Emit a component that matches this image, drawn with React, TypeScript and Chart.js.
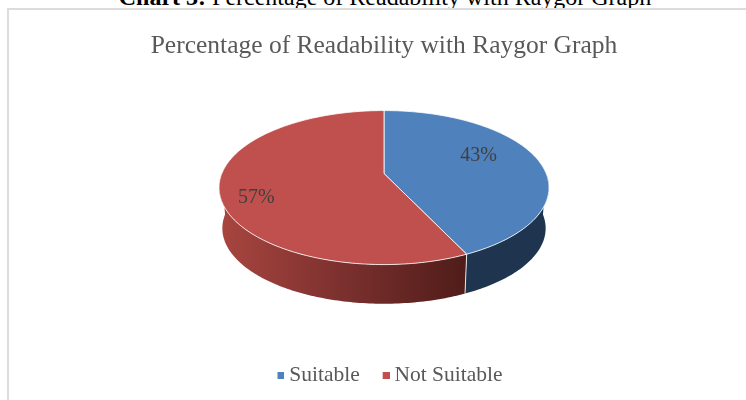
import React, { useEffect, useRef } from "react";
import { Chart, registerables } from "chart.js";

Chart.register(...registerables);

const categories = ["Suitable", "Not Suitable"];
const values = [43, 57];
const titleText = "Percentage of Readability with Raygor Graph";
const captionBold = "Chart 3:";
const captionRest = " Percentage of Readability with Raygor Graph";
const faceColors = ["#4f81bd", "#c0504d"];
const serif = "'Liberation Serif', 'Times New Roman', serif";

// Projection of the library's pie circle on to a tilted disc.
const PERSPECTIVE = 0.182;
const X_SCALE = 1.159;
const Y_SCALE = 0.532;
const HUB_SHIFT_Y = -28;
const WALL_DROP = 41;
const WALL_SHRINK = 0.98;

function squareImage(color: string) {
  const c = document.createElement("canvas");
  c.width = 13;
  c.height = 7;
  const g = c.getContext("2d")!;
  g.fillStyle = color;
  g.fillRect(6, 0, 7, 7);
  return c;
}

function project(arc: any, angle: number, r = 1, drop = 0, scale = 1) {
  const u = Math.cos(angle) * r;
  const v = Math.sin(angle) * r;
  const w = 1 - PERSPECTIVE * v;
  const R = arc.outerRadius;
  return {
    x: arc.x + (R * X_SCALE * scale * u) / w,
    y: arc.y + HUB_SHIFT_Y + drop + (R * Y_SCALE * scale * v) / w,
  };
}

function samples(a: number, b: number) {
  const out: number[] = [];
  const n = Math.max(2, Math.ceil(Math.abs(b - a) * 60));
  for (let i = 0; i <= n; i++) out.push(a + ((b - a) * i) / n);
  return out;
}

const disc3d = {
  id: "disc3d",
  afterLayout(chart: any) {
    if (chart.legend) {
      chart.legend.left += 6;
      chart.legend.right += 6;
    }
  },
  beforeDatasetDraw(chart: any, args: any) {
    const ctx = chart.ctx;
    const arcs: any[] = args.meta.data;
    ctx.save();
    // side wall: only the part facing the viewer
    arcs.forEach((arc, i) => {
      const a = Math.max(arc.startAngle, 0);
      const b = Math.min(arc.endAngle, Math.PI);
      if (b <= a) return;
      const angles = samples(a, b);
      ctx.beginPath();
      angles.forEach((t, k) => {
        const p = project(arc, t);
        if (k === 0) ctx.moveTo(p.x, p.y);
        else ctx.lineTo(p.x, p.y);
      });
      angles
        .slice()
        .reverse()
        .forEach((t) => {
          const p = project(arc, t, 1, WALL_DROP, WALL_SHRINK);
          ctx.lineTo(p.x, p.y);
        });
      ctx.closePath();
      if (i === 0) {
        ctx.fillStyle = "#1f344f";
      } else {
        const left = project(arc, Math.PI).x;
        const right = project(arc, a).x;
        const g = ctx.createLinearGradient(left, 0, right, 0);
        g.addColorStop(0, "#a8453f");
        g.addColorStop(0.5, "#7b302e");
        g.addColorStop(1, "#4f1c19");
        ctx.fillStyle = g;
      }
      ctx.fill();
    });
    // seam on the wall
    arcs.forEach((arc) => {
      if (arc.startAngle > 0 && arc.startAngle < Math.PI) {
        const p = project(arc, arc.startAngle);
        const q = project(arc, arc.startAngle, 1, WALL_DROP, WALL_SHRINK);
        ctx.beginPath();
        ctx.moveTo(p.x, p.y);
        ctx.lineTo(q.x, q.y);
        ctx.strokeStyle = "rgba(255,255,255,0.85)";
        ctx.lineWidth = 1;
        ctx.stroke();
      }
    });
    // top faces
    arcs.forEach((arc, i) => {
      const hub = project(arc, 0, 0);
      ctx.beginPath();
      ctx.moveTo(hub.x, hub.y);
      samples(arc.startAngle, arc.endAngle).forEach((t) => {
        const p = project(arc, t);
        ctx.lineTo(p.x, p.y);
      });
      ctx.closePath();
      ctx.fillStyle = faceColors[i];
      ctx.fill();
      ctx.strokeStyle = "rgba(255,255,255,0.8)";
      ctx.lineWidth = 1;
      ctx.stroke();
    });
    ctx.restore();
    return false;
  },
  afterDatasetsDraw(chart: any) {
    const ctx = chart.ctx;
    const arcs: any[] = chart.getDatasetMeta(0).data;
    const radii = [0.66, 0.805];
    const total = values.reduce((s, x) => s + x, 0);
    ctx.save();
    ctx.font = `20px ${serif}`;
    ctx.fillStyle = "#404040";
    ctx.textAlign = "center";
    ctx.textBaseline = "middle";
    arcs.forEach((arc, i) => {
      const mid = (arc.startAngle + arc.endAngle) / 2 - (10 * Math.PI) / 180;
      const p = project(arc, mid, radii[i]);
      ctx.fillText(`${Math.round((values[i] / total) * 100)}%`, p.x, p.y);
    });
    ctx.restore();
  },
};

export default function App() {
  const ref = useRef<HTMLCanvasElement>(null);
  useEffect(() => {
    document.body.style.margin = "0";
    const chart = new Chart(ref.current!, {
      type: "pie",
      data: {
        labels: categories,
        datasets: [{ data: values, backgroundColor: faceColors, borderWidth: 0 }],
      },
      plugins: [disc3d],
      options: {
        responsive: false,
        animation: false,
        layout: { padding: { top: 31, bottom: 4, left: 0, right: 0 } },
        plugins: {
          tooltip: { enabled: false },
          title: {
            display: true,
            text: titleText,
            color: "#595959",
            font: { family: serif, size: 25.5, weight: "normal" },
            padding: { top: 0, bottom: 0 },
          },
          legend: {
            position: "bottom",
            labels: {
              color: "#595959",
              font: { family: serif, size: 21.5 },
              usePointStyle: true,
              pointStyleWidth: 1,
              padding: 23,
              generateLabels(c: any) {
                const items = (Chart as any).overrides.doughnut.plugins.legend.labels.generateLabels(c);
                items.forEach((it: any, i: number) => {
                  it.pointStyle = squareImage(faceColors[i]);
                });
                return items;
              },
            },
          },
        },
      },
    } as any);
    return () => chart.destroy();
  }, []);
  return (
    <div style={{ position: "relative", width: 746, height: 400, overflow: "hidden", background: "#fff" }}>
      <div
        style={{
          position: "absolute",
          left: 0,
          right: 0,
          top: -15,
          paddingLeft: 24,
          textAlign: "center",
          fontFamily: serif,
          fontSize: 24,
          lineHeight: "24px",
          color: "#000",
          whiteSpace: "pre",
        }}
      >
        <b>{captionBold}</b>
        {captionRest}
      </div>
      <div
        style={{
          position: "absolute",
          left: 7,
          top: 8,
          width: 760,
          height: 420,
          border: "2px solid #dcdcdc",
          boxSizing: "border-box",
        }}
      />
      <canvas ref={ref} width={724} height={400} style={{ position: "absolute", left: 22, top: 0 }} />
    </div>
  );
}
